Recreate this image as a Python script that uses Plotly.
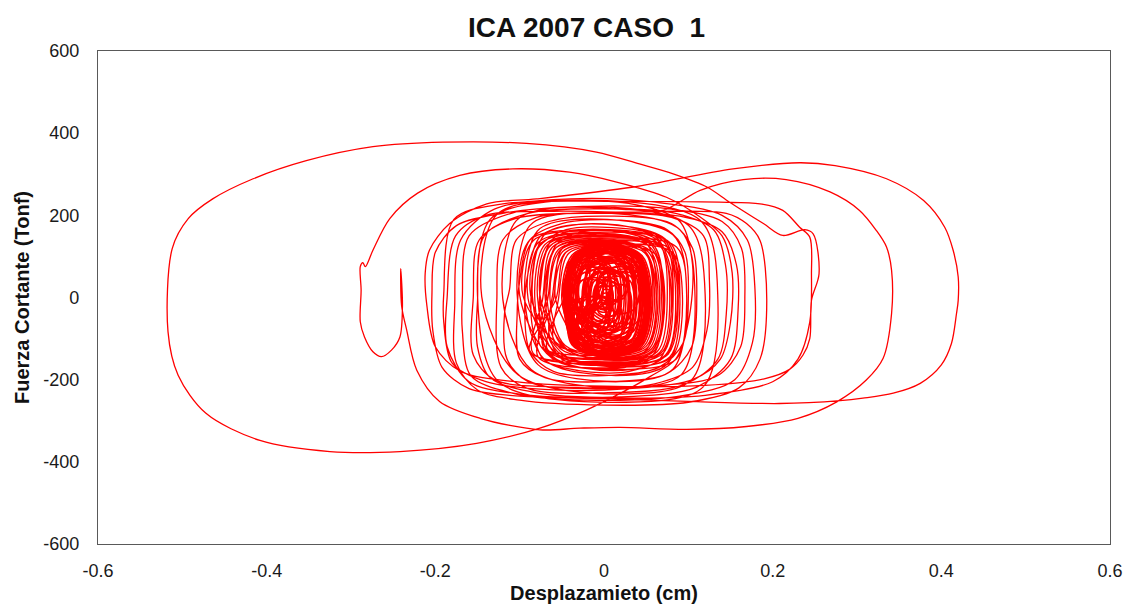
import plotly.graph_objects as go

# ---------------------------------------------------------------
# Shear force vs. displacement record (ICA 2007, case 1)
# Each list holds (displacement [cm], shear [Tonf]) samples in
# time order; the pieces are joined into one continuous path.
# ---------------------------------------------------------------

# early low-amplitude cycles
core_start = [
    (-0.010, 3), (-0.008, 24), (0.000, 30), (0.008, 24), (0.010, -3), (0.008, -24), (0.000, -30), (-0.008, -24),
    (-0.013, 1), (-0.009, 33), (0.002, 42), (0.013, 33), (0.017, -7), (0.013, -39), (0.002, -48), (-0.009, -39),
    (-0.022, 6), (-0.017, 50), (-0.002, 62), (0.013, 50), (0.018, -2), (0.013, -46), (-0.002, -58), (-0.017, -46),
    (-0.021, -1), (-0.015, 55), (0.004, 70), (0.023, 55), (0.029, -9), (0.023, -65), (0.004, -80), (-0.015, -65),
    (-0.030, 4), (-0.023, 72), (0.000, 90), (0.023, 72), (0.030, -4), (0.023, -72), (0.000, -90), (-0.023, -72),
    (-0.032, -2), (-0.024, 78), (0.003, 99), (0.030, 78), (0.038, -10), (0.030, -90), (0.003, -111), (-0.024, -90),
    (-0.041, 0), (-0.031, 88), (-0.001, 111), (0.029, 88), (0.039, -8), (0.029, -96), (-0.001, -119), (-0.031, -96),
    (-0.041, -3), (-0.030, 93), (0.004, 118), (0.038, 93), (0.049, -11), (0.038, -107), (0.004, -132), (-0.030, -107),
    (-0.047, -3), (-0.035, 101), (0.003, 128), (0.041, 101), (0.053, -11), (0.041, -115), (0.003, -142), (-0.035, -115),
    (-0.047, -4), (-0.035, 102), (0.005, 130), (0.045, 102), (0.057, -12), (0.045, -118), (0.005, -146), (-0.035, -118),
    (-0.047, -1), (-0.035, 101), (0.001, 127), (0.037, 101), (0.049, -9), (0.037, -111), (0.001, -137), (-0.035, -111),
    (-0.039, -5), (-0.028, 93), (0.006, 119), (0.040, 93), (0.051, -13), (0.040, -111), (0.006, -137), (-0.028, -111),
    (-0.045, 2), (-0.035, 96), (-0.003, 120), (0.029, 96), (0.039, -6), (0.029, -100), (-0.003, -124), (-0.035, -100),
    (-0.032, -6), (-0.022, 84), (0.008, 108), (0.038, 84), (0.048, -14), (0.038, -104), (0.008, -128), (-0.022, -104),
    (-0.043, 4), (-0.034, 88), (-0.006, 110), (0.022, 88), (0.031, -4), (0.022, -88), (-0.006, -110), (-0.034, -88),
    (-0.025, -8), (-0.017, 71), (0.010, 92), (0.037, 71), (0.045, -16), (0.037, -95), (0.010, -116), (-0.017, -95),
    (-0.040, 7), (-0.032, 81), (-0.008, 101), (0.016, 81), (0.024, -1), (0.016, -75), (-0.008, -95), (-0.032, -75),
    (-0.018, -4), (-0.011, 66), (0.012, 84), (0.035, 66), (0.042, -12), (0.035, -82), (0.012, -100), (-0.011, -82),
    (-0.038, 2), (-0.031, 66), (-0.010, 83), (0.011, 66), (0.018, -6), (0.011, -70), (-0.010, -87), (-0.031, -70),
    (-0.011, -10), (-0.005, 48), (0.014, 64), (0.033, 48), (0.039, -18), (0.033, -76), (0.014, -92), (-0.005, -76),
    (-0.034, 9), (-0.029, 61), (-0.012, 75), (0.005, 61), (0.010, 1), (0.005, -51), (-0.012, -65), (-0.029, -51),
    (-0.004, -6), (0.001, 40), (0.016, 52), (0.031, 40), (0.036, -14), (0.031, -60), (0.016, -72), (0.001, -60),
    (-0.032, -2), (-0.028, 38), (-0.014, 49), (0.000, 38), (0.004, -10), (0.000, -50), (-0.014, -61), (-0.028, -50),
    (0.003, -12), (0.007, 22), (0.018, 32), (0.029, 22), (0.033, -20), (0.029, -54), (0.018, -64), (0.007, -54),
    (-0.007, 24), (-0.004, 52), (0.005, 60), (0.014, 52), (0.017, 16), (0.014, -12), (0.005, -20), (-0.004, -12),
    (-0.017, -36), (-0.014, -6), (-0.005, 2), (0.004, -6), (0.007, -44), (0.004, -74), (-0.005, -82), (-0.014, -74),
    (-0.008, 44), (-0.004, 80), (0.010, 90), (0.024, 80), (0.028, 36), (0.024, 0), (0.010, -10), (-0.004, 0),
    (-0.028, -46), (-0.023, -6), (-0.008, 5), (0.007, -6), (0.012, -54), (0.007, -94), (-0.008, -105), (-0.023, -94),
    (-0.002, 34), (0.003, 86), (0.020, 100), (0.037, 86), (0.042, 26), (0.037, -26), (0.020, -40), (0.003, -26),
    (-0.042, -26), (-0.036, 30), (-0.018, 45), (0.000, 30), (0.006, -34), (0.000, -90), (-0.018, -105), (-0.036, -90),
    (-0.050, -2), (-0.038, 103), (0.000, 130), (0.038, 103), (0.050, -10), (0.038, -115), (0.000, -142), (-0.038, -115),
    (-0.043, -5), (-0.031, 98), (0.006, 125), (0.043, 98), (0.055, -13), (0.043, -116), (0.006, -143), (-0.031, -116),
    (-0.044, 0), (-0.033, 98), (0.002, 124), (0.037, 98), (0.048, -8), (0.037, -106), (0.002, -132), (-0.033, -106),
    (-0.034, -8), (-0.024, 87), (0.009, 112), (0.042, 87), (0.052, -16), (0.042, -111), (0.009, -136), (-0.024, -111),
    (-0.044, 4), (-0.034, 93), (-0.004, 116), (0.026, 93), (0.036, -4), (0.026, -93), (-0.004, -116), (-0.034, -93),
    (-0.026, -11), (-0.017, 75), (0.012, 97), (0.041, 75), (0.050, -19), (0.041, -105), (0.012, -127), (-0.017, -105),
    (-0.010, -21), (-0.003, 55), (0.020, 75), (0.043, 55), (0.050, -29), (0.043, -105), (0.020, -125), (-0.003, -105),
    (-0.048, 14), (-0.041, 86), (-0.020, 105), (0.001, 86), (0.008, 6), (0.001, -66), (-0.020, -85), (-0.041, -66),
    (0.000, -16), (0.006, 52), (0.025, 70), (0.044, 52), (0.050, -24), (0.044, -92), (0.025, -110), (0.006, -92),
    (-0.047, -6), (-0.041, 60), (-0.022, 78), (-0.003, 60), (0.003, -14), (-0.003, -80), (-0.022, -98), (-0.041, -80),
]

# growing cycles before the strong pulse
rise = [
    (-0.058, 4), (-0.046, 109), (-0.011, 128), (0.048, 109), (0.060, -3), (0.048, -117), (0.013, -138), (-0.046, -117),
    (-0.064, -5), (-0.052, 115), (-0.012, 135), (0.054, 115), (0.066, 4), (0.054, -124), (0.014, -146), (-0.052, -124),
    (-0.070, 6), (-0.058, 119), (-0.019, 140), (0.046, 119), (0.058, -5), (0.046, -112), (0.007, -132), (-0.058, -112),
    (-0.054, -4), (-0.042, 107), (-0.004, 126), (0.060, 107), (0.072, 6), (0.060, -129), (0.022, -152), (-0.042, -129),
    (-0.076, 7), (-0.064, 126), (-0.014, 148), (0.066, 126), (0.078, -4), (0.066, -134), (0.016, -158), (-0.064, -134),
    (-0.082, -6), (-0.070, 129), (-0.021, 152), (0.058, 129), (0.070, 5), (0.058, -128), (0.009, -150), (-0.070, -128),
    (-0.066, 5), (-0.054, 117), (-0.006, 138), (0.073, 117), (0.085, -6), (0.073, -140), (0.025, -165), (-0.054, -140),
    (-0.090, -3), (-0.078, 134), (-0.018, 158), (0.078, 134), (0.090, 4), (0.078, -145), (0.018, -170), (-0.078, -145),
    (-0.060, -5), (-0.050, 118), (-0.020, 140), (0.048, 114), (0.062, 5), (0.050, -128), (0.010, -150), (-0.048, -122),
    (-0.068, 3), (-0.056, 130), (-0.022, 152), (0.055, 122), (0.070, -4), (0.058, -140), (0.008, -165), (-0.055, -132),
    (-0.076, -6), (-0.062, 140), (-0.025, 165), (0.064, 132), (0.080, 2), (0.066, -150), (0.012, -178), (-0.062, -142),
    (-0.085, 4), (-0.071, 152), (-0.030, 178), (0.073, 142), (0.090, -3), (0.075, -162), (0.015, -190), (-0.070, -152),
    (-0.094, -2), (-0.079, 162), (-0.035, 190), (0.082, 152), (0.098, 6), (0.082, -174), (0.018, -205), (-0.078, -164),
    (-0.103, 8), (-0.088, 175), (-0.040, 205), (0.090, 165), (0.108, -2), (0.092, -187), (0.020, -220), (-0.086, -176),
    (-0.120, -4), (-0.104, 187), (-0.045, 220), (0.100, 176), (0.120, 4), (0.104, -200), (0.022, -235), (-0.102, -188),
    (-0.145, 2), (-0.128, 200), (-0.060, 235), (0.114, 188), (0.135, -3), (0.118, -217), (0.025, -255), (-0.125, -205),
]

# strong pulse: the largest excursions to both sides
strong = [
    (-0.150, 5), (-0.135, 190), (-0.070, 232), (0.040, 225), (0.090, 185), (0.105, 80),
    (0.100, -60), (0.085, -150), (0.055, -192), (0.027, -225), (-0.021, -274), (-0.076, -318),
    (-0.151, -355), (-0.242, -375), (-0.325, -375), (-0.408, -348), (-0.472, -282), (-0.505, -189),
    (-0.517, -83), (-0.512, 119), (-0.493, 192), (-0.464, 240), (-0.416, 289), (-0.353, 333),
    (-0.274, 367), (-0.191, 378), (-0.092, 375), (-0.009, 354), (0.042, 325), (0.082, 301),
    (0.122, 269), (0.149, 232), (0.189, 180), (0.212, 151), (0.238, 165), (0.248, 155),
    (0.255, 58), (0.246, -7), (0.244, -100), (0.236, -140), (0.220, -175), (0.190, -198),
    (0.120, -214), (0.000, -216), (-0.100, -206), (-0.170, -180), (-0.200, -120), (-0.210, -20),
    (-0.212, 60), (-0.207, 115), (-0.183, 180), (-0.139, 228), (-0.080, 240), (0.035, 269),
    (0.153, 313), (0.232, 328), (0.274, 321), (0.335, 289), (0.379, 236), (0.404, 171),
    (0.414, 115), (0.420, 50), (0.420, -7), (0.418, -39), (0.412, -112), (0.400, -164),
    (0.375, -209), (0.343, -233), (0.307, -245), (0.280, -251), (0.208, -258), (0.100, -253),
    (0.000, -246), (-0.100, -240), (-0.160, -222), (-0.192, -170), (-0.203, -80), (-0.204, 10),
    (-0.200, 110), (-0.175, 175), (-0.120, 205), (-0.040, 220), (0.030, 214), (0.070, 212),
    (0.114, 261), (0.165, 287), (0.216, 287), (0.268, 257), (0.303, 212), (0.323, 163),
    (0.335, 123), (0.341, 66), (0.341, -39), (0.331, -148), (0.311, -201), (0.276, -254),
    (0.230, -294), (0.169, -314), (0.098, -321), (0.019, -316), (-0.029, -318), (-0.076, -322),
    (-0.147, -294), (-0.195, -253), (-0.222, -177), (-0.234, -79), (-0.240, -20), (-0.241, 70),
    (-0.239, -20), (-0.242, -96), (-0.252, -128), (-0.264, -144), (-0.274, -132), (-0.284, -96),
    (-0.289, -59), (-0.288, 18), (-0.289, 75), (-0.286, 85), (-0.283, 75), (-0.274, 115),
    (-0.254, 192), (-0.221, 254), (-0.171, 297), (-0.108, 313), (-0.041, 305), (0.015, 281),
    (0.074, 244), (0.114, 196), (0.140, 150), (0.152, 60), (0.150, -60), (0.138, -150),
    (0.105, -200), (0.030, -222), (-0.060, -225), (-0.140, -205), (-0.180, -160), (-0.190, -60),
    (-0.190, 10),
]

# decaying cycles after the pulse
decay = [
    (-0.178, 190), (-0.120, 228), (0.019, 234), (0.137, 232), (0.185, 228), (0.212, 212),
    (0.232, 171), (0.244, 147), (0.246, 58), (0.244, -60), (0.230, -150), (0.200, -205),
    (0.120, -238), (0.000, -245), (-0.100, -235), (-0.160, -205), (-0.186, -120), (-0.186, 0),
    (-0.176, 150), (-0.140, 200), (-0.060, 210), (0.019, 208), (0.145, 205), (0.169, 180),
    (0.185, 139), (0.193, -7), (0.185, -150), (0.160, -220), (0.100, -255), (0.000, -262),
    (-0.100, -250), (-0.150, -225), (-0.175, -160), (-0.177, -20),
    (-0.170, 140), (-0.130, 215), (-0.040, 240), (0.060, 232), (0.140, 200), (0.170, 140),
    (0.179, 20), (0.176, -110), (0.155, -200), (0.090, -240), (-0.020, -250), (-0.110, -232),
    (-0.158, -190), (-0.168, -80), (-0.168, 0),
    (-0.160, 150), (-0.110, 205), (-0.020, 222), (0.080, 215), (0.140, 185), (0.163, 120),
    (0.167, 0), (0.162, -120), (0.135, -190), (0.060, -215), (-0.050, -218), (-0.130, -200),
    (-0.155, -140), (-0.155, 0),
    (-0.148, 140), (-0.105, 192), (-0.010, 205), (0.090, 198), (0.140, 160), (0.157, 80),
    (0.159, -30), (0.150, -150), (0.110, -218), (0.020, -242), (-0.080, -232), (-0.135, -195),
    (-0.150, -120), (-0.150, -10),
    (-0.142, 150), (-0.090, 205), (0.000, 216), (0.085, 205), (0.130, 165), (0.144, 80),
    (0.145, -40), (0.135, -150), (0.095, -212), (0.000, -232), (-0.090, -222), (-0.122, -170),
    (-0.127, 0),
    (-0.120, 140), (-0.080, 195), (0.000, 205), (0.080, 195), (0.118, 150), (0.125, 40),
    (0.122, -80), (0.105, -170), (0.060, -210), (-0.020, -222), (-0.090, -205), (-0.115, -150),
    (-0.118, -40),
    (-0.112, 20), (-0.104, 140), (-0.065, 185), (0.010, 198), (0.080, 180), (0.105, 120),
    (0.110, 0), (0.104, -120), (0.075, -185), (0.000, -205), (-0.070, -195), (-0.100, -150),
    (-0.103, -40),
    (-0.100, 40), (-0.088, 140), (-0.050, 180), (0.020, 188), (0.075, 165), (0.096, 110),
    (0.100, 0), (0.094, -110), (0.065, -170), (0.000, -190), (-0.060, -180), (-0.088, -130),
    (-0.094, -20),
    (-0.090, 60), (-0.075, 150), (-0.030, 178), (0.030, 172), (0.072, 140), (0.085, 60),
    (0.086, -50), (0.074, -140), (0.030, -180), (-0.030, -178), (-0.072, -150), (-0.085, -70),
    (-0.086, 20), (-0.078, 120), (-0.045, 165), (0.010, 170), (0.060, 150), (0.078, 80),
    (0.080, -30), (0.070, -130), (0.030, -168), (-0.030, -170), (-0.065, -140), (-0.076, -60),
    (-0.075, 30), (-0.066, 120), (-0.030, 158), (0.020, 160), (0.058, 130), (0.070, 40),
    (0.068, -80), (0.050, -145), (0.000, -165), (-0.050, -150), (-0.065, -90),
    (-0.061, 6), (-0.049, 112), (-0.011, 132), (0.052, 112), (0.064, -6), (0.052, -121), (0.014, -142), (-0.049, -121),
    (-0.096, 4), (-0.084, 138), (-0.025, 162), (0.070, 138), (0.082, -5), (0.070, -136), (0.011, -160), (-0.084, -136),
    (-0.073, -7), (-0.061, 123), (-0.005, 145), (0.086, 123), (0.098, 6), (0.086, -149), (0.030, -175), (-0.061, -149),
    (-0.100, 5), (-0.088, 140), (-0.030, 165), (0.063, 140), (0.075, -4), (0.063, -132), (0.005, -155), (-0.088, -132),
    (-0.057, -4), (-0.045, 110), (0.003, 130), (0.081, 110), (0.093, 5), (0.081, -143), (0.033, -168), (-0.045, -143),
    (-0.087, 6), (-0.075, 132), (-0.027, 155), (0.050, 132), (0.062, -6), (0.050, -119), (0.002, -140), (-0.075, -119),
    (-0.069, -5), (-0.057, 121), (-0.006, 142), (0.076, 121), (0.088, 4), (0.076, -138), (0.025, -162), (-0.057, -138),
    (-0.079, 4), (-0.067, 128), (-0.020, 150), (0.056, 128), (0.068, -5), (0.056, -126), (0.009, -148), (-0.067, -126),
]

# late low-amplitude cycles (free vibration tail)
core_end = [
    (-0.047, -3), (-0.035, 103), (0.004, 131), (0.043, 103), (0.055, -11), (0.043, -117), (0.004, -145), (-0.035, -117),
    (-0.048, -1), (-0.036, 102), (0.001, 129), (0.038, 102), (0.050, -9), (0.038, -112), (0.001, -139), (-0.036, -112),
    (-0.040, -6), (-0.029, 95), (0.007, 121), (0.043, 95), (0.054, -14), (0.043, -115), (0.007, -141), (-0.029, -115),
    (-0.047, 1), (-0.036, 99), (-0.002, 124), (0.032, 99), (0.043, -7), (0.032, -105), (-0.002, -130), (-0.036, -105),
    (-0.033, -8), (-0.023, 87), (0.010, 112), (0.043, 87), (0.053, -16), (0.043, -111), (0.010, -136), (-0.023, -111),
    (-0.046, 4), (-0.036, 96), (-0.005, 120), (0.026, 96), (0.036, -4), (0.026, -96), (-0.005, -120), (-0.036, -96),
    (-0.026, -10), (-0.017, 79), (0.013, 102), (0.043, 79), (0.052, -18), (0.043, -107), (0.013, -130), (-0.017, -107),
    (-0.045, 6), (-0.036, 92), (-0.008, 114), (0.020, 92), (0.029, -2), (0.020, -88), (-0.008, -110), (-0.036, -88),
    (-0.018, -13), (-0.010, 68), (0.016, 89), (0.042, 68), (0.050, -21), (0.042, -102), (0.016, -123), (-0.010, -102),
    (-0.043, 8), (-0.035, 84), (-0.011, 104), (0.013, 84), (0.021, 0), (0.013, -76), (-0.011, -96), (-0.035, -76),
    (-0.011, -16), (-0.004, 57), (0.019, 76), (0.042, 57), (0.049, -24), (0.042, -97), (0.019, -116), (-0.004, -97),
    (-0.042, 10), (-0.035, 78), (-0.014, 96), (0.007, 78), (0.014, 2), (0.007, -66), (-0.014, -84), (-0.035, -66),
    (-0.004, -18), (0.002, 47), (0.022, 64), (0.042, 47), (0.048, -26), (0.042, -91), (0.022, -108), (0.002, -91),
    (-0.041, 12), (-0.035, 72), (-0.017, 88), (0.001, 72), (0.007, 4), (0.001, -56), (-0.017, -72), (-0.035, -56),
    (-0.022, -56), (-0.017, -12), (0.000, 0), (0.017, -12), (0.022, -64), (0.017, -108), (0.000, -120), (-0.017, -108),
    (-0.017, 54), (-0.012, 98), (0.005, 110), (0.022, 98), (0.027, 46), (0.022, 2), (0.005, -10), (-0.012, 2),
    (-0.047, -4), (-0.035, 102), (0.003, 129), (0.041, 102), (0.053, -12), (0.041, -118), (0.003, -145), (-0.035, -118),
    (-0.042, -2), (-0.030, 100), (0.006, 127), (0.042, 100), (0.054, -10), (0.042, -112), (0.006, -139), (-0.030, -112),
    (-0.046, -5), (-0.035, 94), (0.000, 120), (0.035, 94), (0.046, -13), (0.035, -112), (0.000, -138), (-0.035, -112),
    (-0.036, 0), (-0.025, 96), (0.008, 121), (0.041, 96), (0.052, -8), (0.041, -104), (0.008, -129), (-0.025, -104),
    (-0.040, -26), (-0.031, 50), (-0.004, 70), (0.023, 50), (0.032, -34), (0.023, -110), (-0.004, -130), (-0.031, -110),
    (-0.024, 24), (-0.015, 100), (0.012, 120), (0.039, 100), (0.048, 16), (0.039, -60), (0.012, -80), (-0.015, -60),
    (-0.036, -2), (-0.026, 88), (0.004, 112), (0.034, 88), (0.044, -10), (0.034, -100), (0.004, -124), (-0.026, -100),
    (-0.032, -4), (-0.024, 74), (0.002, 94), (0.028, 74), (0.036, -12), (0.028, -90), (0.002, -110), (-0.024, -90),
    (-0.024, -1), (-0.017, 69), (0.006, 87), (0.029, 69), (0.036, -9), (0.029, -79), (0.006, -97), (-0.017, -79),
    (-0.026, -3), (-0.020, 57), (0.000, 73), (0.020, 57), (0.026, -11), (0.020, -71), (0.000, -87), (-0.020, -71),
    (-0.018, 0), (-0.013, 50), (0.004, 64), (0.021, 50), (0.026, -8), (0.021, -58), (0.004, -72), (-0.013, -58),
    (-0.016, -2), (-0.012, 39), (0.002, 50), (0.016, 39), (0.020, -10), (0.016, -51), (0.002, -62), (-0.012, -51),
    (-0.009, 1), (-0.006, 32), (0.005, 41), (0.016, 32), (0.019, -7), (0.016, -38), (0.005, -47), (-0.006, -38),
    (-0.009, 0), (-0.007, 22), (0.001, 28), (0.009, 22), (0.011, -8), (0.009, -30), (0.001, -36), (-0.007, -30),
    (-0.004, 0), (-0.002, 16), (0.003, 20), (0.008, 16), (0.010, -4), (0.008, -20), (0.003, -24), (-0.002, -20),
    (-0.002, 0), (-0.001, 9), (0.002, 11), (0.005, 9), (0.006, -2), (0.005, -11), (0.002, -13), (-0.001, -11),
]

x_ticks = [-0.6, -0.4, -0.2, 0.0, 0.2, 0.4, 0.6]
x_tick_text = ["-0.6", "-0.4", "-0.2", "0", "0.2", "0.4", "0.6"]
y_ticks = [-600, -400, -200, 0, 200, 400, 600]
y_tick_text = ["-600", "-400", "-200", "0", "200", "400", "600"]

FONT = "Liberation Sans, Arial, sans-serif"
AXIS_COLOR = "#595959"
RED = "#FF0000"

# the record is drawn as three consecutive stretches that share their
# joining samples, so the path stays continuous
segments = [
    (core_start, 1.6),
    (core_start[-1:] + rise + strong + decay + core_end[:1], 1.3),
    (core_end, 1.6),
]

fig = go.Figure()
for samples, width in segments:
    fig.add_trace(
        go.Scatter(
            x=[p[0] for p in samples],
            y=[p[1] for p in samples],
            mode="lines",
            line=dict(color=RED, width=width, shape="spline", smoothing=0.9),
            showlegend=False,
            hovertemplate="%{x:.3f} cm, %{y:.0f} Tonf<extra></extra>",
        )
    )

fig.update_layout(
    width=1128,
    height=606,
    margin=dict(l=98, r=18, t=51, b=62),
    paper_bgcolor="white",
    plot_bgcolor="white",
    font=dict(family=FONT, color="#1a1a1a"),
    title=dict(
        text="<b>ICA 2007 CASO  1</b>",
        x=0.52,
        xanchor="center",
        y=0.955,
        yanchor="middle",
        font=dict(family=FONT, size=28, color="#111111"),
    ),
)

fig.update_xaxes(
    range=[-0.6, 0.6],
    tickvals=x_ticks,
    ticktext=x_tick_text,
    showgrid=False,
    zeroline=False,
    showline=True,
    mirror=True,
    linecolor=AXIS_COLOR,
    linewidth=1.3,
    ticks="",
    ticklabelstandoff=10,
    tickfont=dict(family=FONT, size=18, color="#1a1a1a"),
    title=dict(
        text="<b>Desplazamieto (cm)</b>",
        font=dict(family=FONT, size=20, color="#111111"),
        standoff=6,
    ),
    automargin=False,
)

fig.update_yaxes(
    range=[-600, 600],
    tickvals=y_ticks,
    ticktext=y_tick_text,
    showgrid=False,
    zeroline=False,
    showline=True,
    mirror=True,
    linecolor=AXIS_COLOR,
    linewidth=1.3,
    ticks="",
    ticklabelstandoff=14,
    tickfont=dict(family=FONT, size=18, color="#1a1a1a"),
    title=dict(
        text="<b>Fuerza Cortante (Tonf)</b>",
        font=dict(family=FONT, size=20, color="#111111"),
        standoff=8,
    ),
    automargin=False,
)

fig.write_html("out.html")
